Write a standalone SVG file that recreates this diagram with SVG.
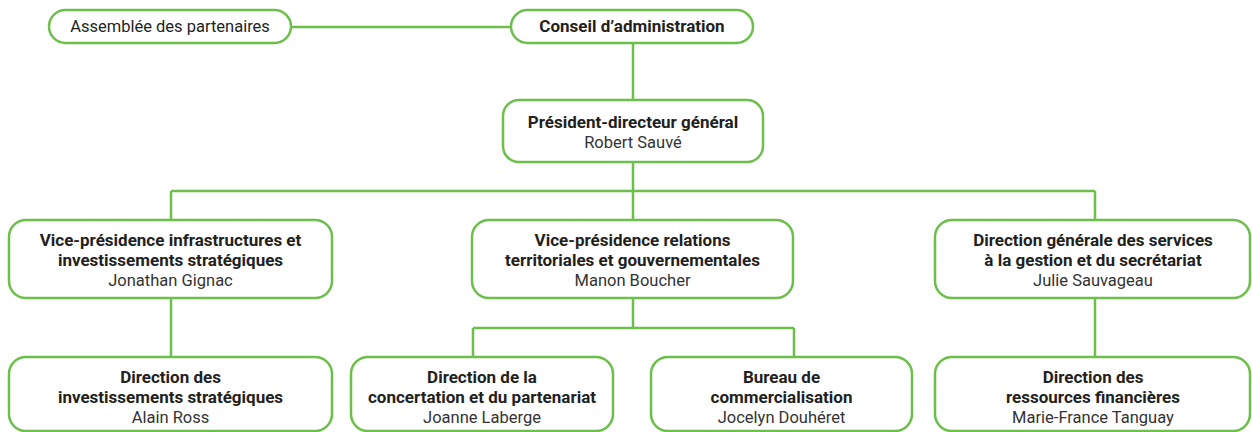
<svg xmlns="http://www.w3.org/2000/svg" width="1252" height="432" viewBox="0 0 1252 432">
<style>
.box{fill:#fff;stroke:#6cbf4b;stroke-width:2.5}
.ln{fill:none;stroke:#6cbf4b;stroke-width:2.5}
text{font-family:Roboto,"Liberation Sans",sans-serif;font-size:16.5px;text-anchor:middle;fill:#231f20}
.b{font-weight:bold;font-size:17px}
.n{fill:#333}
</style>
<rect width="1252" height="432" fill="#fff"/>
<g id="connectors">
<path class="ln" d="M291 27H511"/>
<path class="ln" d="M633 43V100"/>
<path class="ln" d="M633 162V191M171 191H1095M171 191V220M633 191V220M1095 191V220"/>
<path class="ln" d="M171 298V357"/>
<path class="ln" d="M633 298V328M473 328H794M473 328V357M794 328V357"/>
<path class="ln" d="M1095 298V357"/>
</g>
<g id="assemblee">
<rect class="box" x="49" y="10" width="242" height="33" rx="16.5"/>
<text x="170" y="32">Assemblée des partenaires</text>
</g>
<g id="conseil">
<rect class="box" x="511" y="10" width="242" height="33" rx="16.5"/>
<text class="b" x="632" y="32">Conseil d’administration</text>
</g>
<g id="pdg">
<rect class="box" x="503" y="100" width="260" height="62" rx="16"/>
<text class="b" x="633" y="128">Président-directeur général</text>
<text class="n" x="633" y="148">Robert Sauvé</text>
</g>
<g id="vp-infra">
<rect class="box" x="9" y="220" width="323" height="78" rx="17"/>
<text class="b" x="170.5" y="246">Vice-présidence infrastructures et</text>
<text class="b" x="170.5" y="266">investissements stratégiques</text>
<text class="n" x="170.5" y="286">Jonathan Gignac</text>
</g>
<g id="vp-relations">
<rect class="box" x="472" y="220" width="321" height="78" rx="17"/>
<text class="b" x="632.5" y="246">Vice-présidence relations</text>
<text class="b" x="632.5" y="266">territoriales et gouvernementales</text>
<text class="n" x="632.5" y="286">Manon Boucher</text>
</g>
<g id="dg-services">
<rect class="box" x="935" y="220" width="315" height="78" rx="17"/>
<text class="b" x="1093" y="246">Direction générale des services</text>
<text class="b" x="1093" y="266">à la gestion et du secrétariat</text>
<text class="n" x="1093" y="286">Julie Sauvageau</text>
</g>
<g id="dir-investissements">
<rect class="box" x="9" y="357" width="323" height="74" rx="17"/>
<text class="b" x="170.5" y="383">Direction des</text>
<text class="b" x="170.5" y="403">investissements stratégiques</text>
<text class="n" x="170.5" y="423">Alain Ross</text>
</g>
<g id="dir-concertation">
<rect class="box" x="351" y="357" width="262" height="74" rx="17"/>
<text class="b" x="482" y="383">Direction de la</text>
<text class="b" x="482" y="403">concertation et du partenariat</text>
<text class="n" x="482" y="423">Joanne Laberge</text>
</g>
<g id="bureau-commercialisation">
<rect class="box" x="651" y="357" width="261" height="74" rx="17"/>
<text class="b" x="781.5" y="383">Bureau de</text>
<text class="b" x="781.5" y="403">commercialisation</text>
<text class="n" x="781.5" y="423">Jocelyn Douhéret</text>
</g>
<g id="dir-ressources">
<rect class="box" x="935" y="357" width="315" height="74" rx="17"/>
<text class="b" x="1093" y="383">Direction des</text>
<text class="b" x="1093" y="403">ressources financières</text>
<text class="n" x="1093" y="423">Marie-France Tanguay</text>
</g>
</svg>
